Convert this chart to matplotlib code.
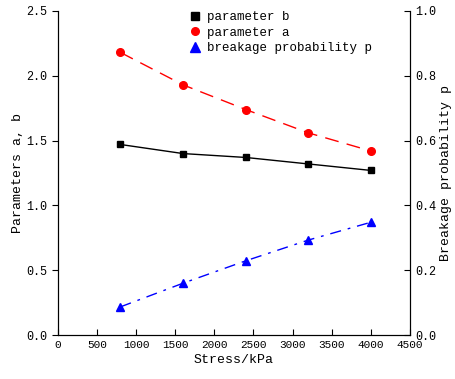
import matplotlib
matplotlib.use("Agg")
import matplotlib.pyplot as plt
from matplotlib.lines import Line2D

stress = [800, 1600, 2400, 3200, 4000]
param_b = [1.47, 1.40, 1.37, 1.32, 1.27]
param_a = [2.18, 1.93, 1.74, 1.56, 1.42]
prob_p = [0.087, 0.16, 0.229, 0.293, 0.348]

xticks = [0, 500, 1000, 1500, 2000, 2500, 3000, 3500, 4000, 4500]
yticks_left = [0.0, 0.5, 1.0, 1.5, 2.0, 2.5]
yticks_right = [0.0, 0.2, 0.4, 0.6, 0.8, 1.0]

plt.rcParams['font.family'] = ['Liberation Mono', 'DejaVu Sans Mono']

fig = plt.figure(figsize=(4.56, 3.79), dpi=100)
ax = fig.add_axes([0.127, 0.116, 0.772, 0.855])
ax2 = ax.twinx()

ax.plot(stress, param_b, color='black', lw=1.0, ls='-', marker='s', ms=5)
ax.plot(stress, param_a, color='red', lw=1.0, ls=(0, (10, 6)), marker='o', ms=5.5)
ax2.plot(stress, prob_p, color='blue', lw=1.0, ls=(0, (8, 5, 2, 5)), marker='^', ms=6)

ax.set_xlim(0, 4500)
ax.set_ylim(0, 2.5)
ax2.set_ylim(0, 1.0)
ax.set_xticks(xticks)
ax.set_yticks(yticks_left)
ax2.set_yticks(yticks_right)
ax.set_yticklabels([f"{v:.1f}" for v in yticks_left])
ax2.set_yticklabels([f"{v:.1f}" for v in yticks_right])

for a in (ax, ax2):
    a.spines['top'].set_visible(False)
ax.tick_params(axis='x', direction='in', labelsize=8, length=4)
ax.tick_params(axis='y', direction='out', labelsize=8.5, length=4)
ax2.tick_params(axis='y', direction='in', labelsize=8.5, length=4)

ax.set_xlabel('Stress/kPa', fontsize=9.5, labelpad=3)
ax.set_ylabel('Parameters a, b', fontsize=9.5, labelpad=2)
ax2.set_ylabel('Breakage probability p', fontsize=9.5, labelpad=3)

handles = [
    Line2D([], [], color='black', marker='s', ls='none', ms=5.5),
    Line2D([], [], color='red', marker='o', ls='none', ms=5.5),
    Line2D([], [], color='blue', marker='^', ls='none', ms=6.5),
]
labels = ['parameter b', 'parameter a', 'breakage probability p']
leg = ax.legend(handles, labels, loc='upper left', bbox_to_anchor=(0.335, 1.035),
                frameon=False, fontsize=9, handletextpad=0.4, labelspacing=0.3,
                handlelength=1.2)

fig.savefig('out.png', dpi=100)
